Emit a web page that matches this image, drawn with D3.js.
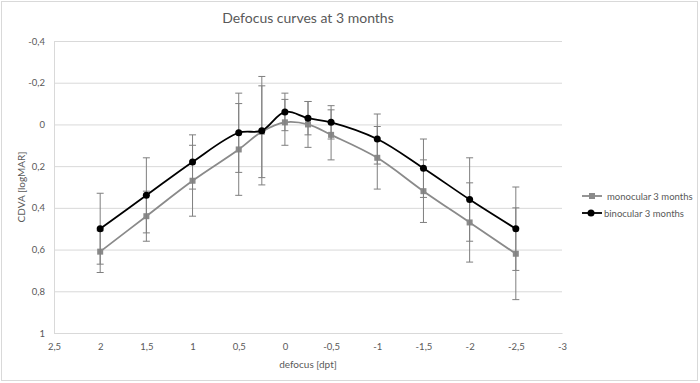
<!DOCTYPE html>
<html>
<head>
<meta charset="utf-8">
<script src="https://cdn.jsdelivr.net/npm/d3@7"></script>
<style>
  html, body { margin: 0; padding: 0; background: #fff; }
  svg { display: block; font-family: Lato, "Open Sans", sans-serif; }
</style>
</head>
<body>
<svg id="chart" width="700" height="383"></svg>
<script>
// ---- data ----
const defocus = [2, 1.5, 1, 0.5, 0.25, 0, -0.25, -0.5, -1, -1.5, -2, -2.5];
const monocular = [0.61, 0.44, 0.27, 0.12, 0.035, -0.01, 0.0, 0.05, 0.16, 0.32, 0.47, 0.62];
const monocularErr = [0.10, 0.12, 0.17, 0.22, 0.22, 0.11, 0.11, 0.12, 0.15, 0.15, 0.19, 0.22];
const binocular = [0.50, 0.34, 0.18, 0.04, 0.03, -0.06, -0.03, -0.01, 0.07, 0.21, 0.36, 0.50];
const binocularErr = [0.17, 0.18, 0.13, 0.19, 0.26, 0.09, 0.08, 0.08, 0.12, 0.14, 0.20, 0.20];
const xTicks = [2.5, 2, 1.5, 1, 0.5, 0, -0.5, -1, -1.5, -2, -2.5, -3];
const yTicks = [-0.4, -0.2, 0, 0.2, 0.4, 0.6, 0.8, 1];
const seriesNames = ["monocular 3 months", "binocular 3 months"];
const title = "Defocus curves at 3 months";
const xTitle = "defocus [dpt]";
const yTitle = "CDVA [logMAR]";

// ---- layout ----
const W = 700, H = 383;
const plot = { left: 54, right: 562, top: 41, bottom: 333 };
const svg = d3.select("#chart");

const fmt = v => String(+v.toFixed(2)).replace(".", ",");

const x = d3.scaleLinear().domain([2.5, -3]).range([plot.left, plot.right]);
const y = d3.scaleLinear().domain([-0.4, 1]).range([plot.top, plot.bottom]);

// outer border
svg.append("rect").attr("x", 1.5).attr("y", 1.5).attr("width", W - 4).attr("height", H - 4)
  .attr("fill", "#fff").attr("stroke", "#d9d9d9").attr("stroke-width", 1);

// title
svg.append("text").attr("x", (plot.left + plot.right) / 2).attr("y", 23)
  .attr("text-anchor", "middle").attr("font-size", 14).attr("fill", "#595959").text(title);

// gridlines + y axis labels
const yAxis = d3.axisLeft(y).tickValues(yTicks).tickSize(-(plot.right - plot.left)).tickPadding(9).tickFormat(fmt);
const gy = svg.append("g").attr("transform", `translate(${plot.left},0)`).call(yAxis);
gy.select(".domain").remove();
gy.selectAll(".tick line").attr("stroke", "#d9d9d9").attr("stroke-width", 1);
gy.selectAll(".tick text").attr("fill", "#595959").attr("font-size", 9.5).attr("font-family", "Lato, sans-serif");

// left axis line
svg.append("line").attr("x1", plot.left + 0.5).attr("x2", plot.left + 0.5)
  .attr("y1", plot.top).attr("y2", plot.bottom).attr("stroke", "#d9d9d9");

// x axis
const xAxis = d3.axisBottom(x).tickValues(xTicks).tickSize(0).tickPadding(10).tickFormat(fmt);
const gx = svg.append("g").attr("transform", `translate(0,${plot.bottom})`).call(xAxis);
gx.select(".domain").attr("stroke", "#d9d9d9");
gx.selectAll(".tick text").attr("fill", "#595959").attr("font-size", 9.5).attr("font-family", "Lato, sans-serif");

// axis titles
svg.append("text").attr("x", (plot.left + plot.right) / 2).attr("y", 368)
  .attr("text-anchor", "middle").attr("font-size", 10).attr("fill", "#595959").text(xTitle);
svg.append("text").attr("transform", `translate(25,${(plot.top + plot.bottom) / 2}) rotate(-90)`)
  .attr("text-anchor", "middle").attr("font-size", 10).attr("fill", "#595959").text(yTitle);

const series = [
  { name: seriesNames[0], vals: monocular, err: monocularErr, color: "#8a8a8a", marker: "square" },
  { name: seriesNames[1], vals: binocular, err: binocularErr, color: "#000000", marker: "circle" }
];

const line = d3.line().x(d => x(d[0])).y(d => y(d[1])).curve(d3.curveCatmullRom.alpha(0.5));
const errColor = "#7f7f7f";
const cap = 3.5;

series.forEach(s => {
  const pts = defocus.map((dx, i) => [dx, s.vals[i], s.err[i]]);
  // line
  svg.append("path").datum(pts).attr("d", line).attr("fill", "none")
    .attr("stroke", s.color).attr("stroke-width", 1.8);
  // error bars
  const g = svg.append("g").attr("stroke", errColor).attr("stroke-width", 1);
  pts.forEach(p => {
    const cx = x(p[0]), y1 = y(p[1] - p[2]), y2 = y(p[1] + p[2]);
    g.append("line").attr("x1", cx).attr("x2", cx).attr("y1", y1).attr("y2", y2);
    g.append("line").attr("x1", cx - cap).attr("x2", cx + cap).attr("y1", y1).attr("y2", y1);
    g.append("line").attr("x1", cx - cap).attr("x2", cx + cap).attr("y1", y2).attr("y2", y2);
  });
  // markers
  pts.forEach(p => {
    if (s.marker === "square") {
      svg.append("rect").attr("x", x(p[0]) - 3).attr("y", y(p[1]) - 3).attr("width", 6).attr("height", 6)
        .attr("fill", s.color);
    } else {
      svg.append("circle").attr("cx", x(p[0])).attr("cy", y(p[1])).attr("r", 3.5).attr("fill", s.color);
    }
  });
});

// legend
const legY = [196, 213];
series.forEach((s, i) => {
  const lg = svg.append("g");
  lg.append("line").attr("x1", 582).attr("x2", 602).attr("y1", legY[i]).attr("y2", legY[i])
    .attr("stroke", s.color).attr("stroke-width", 1.8);
  if (s.marker === "square") {
    lg.append("rect").attr("x", 589).attr("y", legY[i] - 3).attr("width", 6).attr("height", 6).attr("fill", s.color);
  } else {
    lg.append("circle").attr("cx", 591).attr("cy", legY[i]).attr("r", 3.5).attr("fill", s.color);
  }
  lg.append("text").attr("x", i === 0 ? 607 : 604).attr("y", legY[i] + 3.5)
    .attr("font-size", 9.5).attr("fill", "#595959").text(s.name);
});
</script>
</body>
</html>
